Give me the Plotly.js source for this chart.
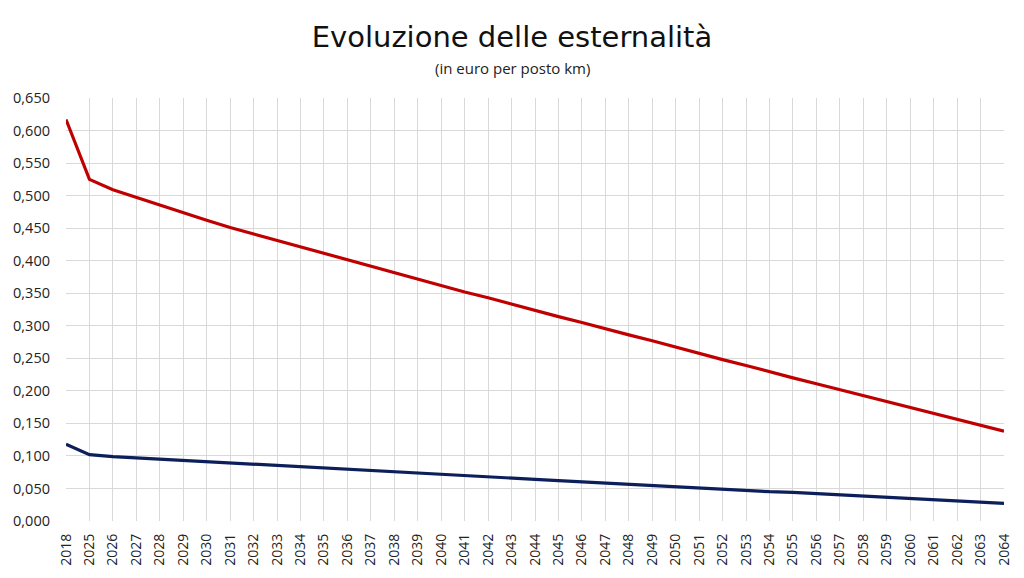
<!DOCTYPE html>
<html>
<head>
<meta charset="utf-8">
<script src="https://cdn.plot.ly/plotly-3.0.1.min.js"></script>
<style>html,body{margin:0;padding:0;background:#fff;}#chart{width:1024px;height:578px;}</style>
</head>
<body>
<div id="chart"></div>
<script>
const years = ["2018","2025","2026","2027","2028","2029","2030","2031","2032","2033","2034","2035","2036","2037","2038","2039","2040","2041","2042","2043","2044","2045","2046","2047","2048","2049","2050","2051","2052","2053","2054","2055","2056","2057","2058","2059","2060","2061","2062","2063","2064"];
const redSeries = [0.617,0.525,0.509,0.497,0.485,0.473,0.462,0.451,0.441,0.431,0.421,0.411,0.401,0.391,0.381,0.371,0.362,0.352,0.343,0.333,0.324,0.314,0.305,0.295,0.286,0.277,0.267,0.258,0.248,0.239,0.229,0.220,0.211,0.202,0.193,0.184,0.175,0.166,0.157,0.147,0.138];
const blueSeries = [0.118,0.102,0.099,0.097,0.095,0.093,0.091,0.089,0.087,0.085,0.083,0.081,0.079,0.077,0.075,0.073,0.071,0.069,0.068,0.066,0.064,0.062,0.060,0.058,0.057,0.055,0.053,0.051,0.049,0.047,0.045,0.044,0.042,0.040,0.038,0.036,0.034,0.033,0.031,0.029,0.027];
const titleText = "Evoluzione delle esternalità";
const subtitleText = "(in euro per posto km)";

const traces = [
  {x: years, y: redSeries, type: 'scatter', mode: 'lines', line: {color: '#c00000', width: 3.2}, hoverinfo: 'skip'},
  {x: years, y: blueSeries, type: 'scatter', mode: 'lines', line: {color: '#0c1f5a', width: 3.2}, hoverinfo: 'skip'}
];
const layout = {
  width: 1024, height: 578,
  margin: {l: 66, r: 20, t: 98, b: 57},
  paper_bgcolor: '#fff', plot_bgcolor: '#fff',
  showlegend: false,
  separators: ',.',
  font: {family: 'Open Sans, DejaVu Sans, sans-serif', color: '#222'},
  title: {text: titleText, x: 0.5, xanchor: 'center', y: 0.937, yanchor: 'middle',
          font: {family: 'DejaVu Sans, sans-serif', size: 29, color: '#111'}},
  annotations: [{text: subtitleText, xref: 'paper', yref: 'paper', x: 0.4755, y: 1, xanchor: 'center', yanchor: 'bottom',
                 yshift: 18, showarrow: false, font: {family: 'Open Sans, sans-serif', size: 15, color: '#222'}}],
  xaxis: {type: 'category', range: [0, 40], showgrid: true, gridcolor: '#d9d9d9', gridwidth: 1,
          zeroline: false, showline: false, tickangle: -90, ticks: '', ticklabelstandoff: 9,
          tickfont: {family: 'Open Sans, sans-serif', size: 14, color: '#222'}, fixedrange: true},
  yaxis: {range: [0, 0.65], dtick: 0.05, tick0: 0, tickformat: '.3f', showgrid: true, gridcolor: '#d9d9d9',
          gridwidth: 1, zeroline: false, showline: false, ticks: '', ticklabelstandoff: 15,
          tickfont: {family: 'Open Sans, sans-serif', size: 14.5, color: '#222'}, fixedrange: true}
};
Plotly.newPlot('chart', traces, layout, {displayModeBar: false, staticPlot: true});
</script>
</body>
</html>
